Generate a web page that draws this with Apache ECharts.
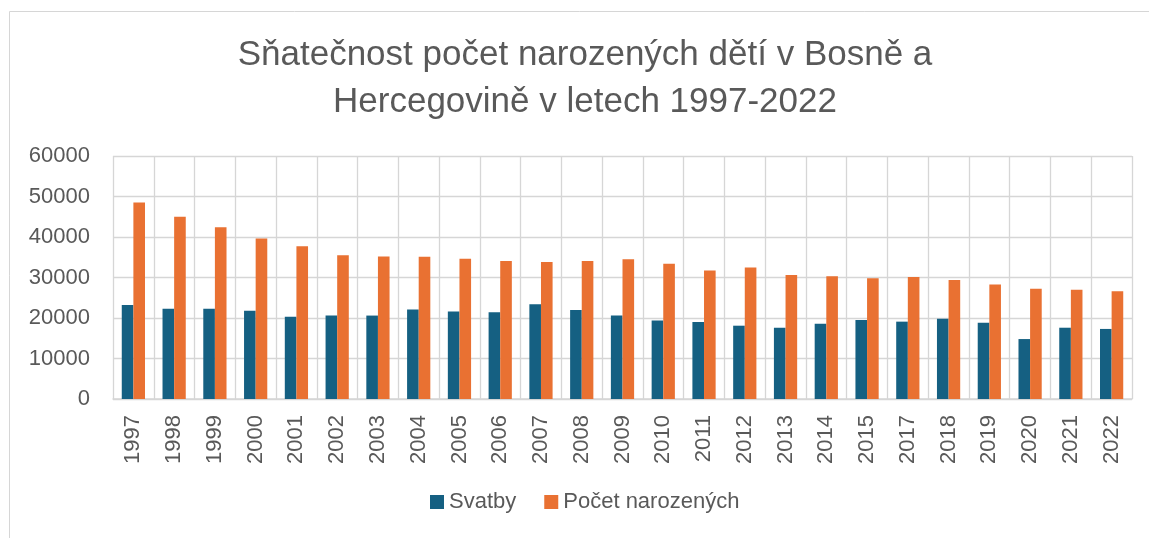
<!DOCTYPE html>
<html>
<head>
<meta charset="utf-8">
<title>Sňatečnost a porodnost v BiH</title>
<script src="https://cdn.jsdelivr.net/npm/echarts@6/dist/echarts.min.js"></script>
<style>
  html, body { margin: 0; padding: 0; background: #fff; }
  #chart { width: 1149px; height: 538px; }
</style>
</head>
<body>
<div id="chart"></div>
<script>
// roky (2016 v datech chybí)
const years = [
  "1997", "1998", "1999", "2000", "2001", "2002", "2003", "2004", "2005",
  "2006", "2007", "2008", "2009", "2010", "2011", "2012", "2013", "2014",
  "2015", "2017", "2018", "2019", "2020", "2021", "2022",
];
const svatby = [
  23200, 22300, 22300, 21800, 20300, 20600, 20600, 22100, 21600,
  21400, 23400, 22000, 20600, 19400, 19000, 18100, 17600, 18600,
  19500, 19100, 19800, 18800, 14800, 17600, 17300,
];
const narozeni = [
  48500, 45000, 42400, 39600, 37700, 35500, 35200, 35100, 34600,
  34100, 33800, 34100, 34500, 33400, 31700, 32500, 30600, 30300,
  29800, 30100, 29400, 28300, 27200, 27000, 26600,
];
const yTicks = [0, 10000, 20000, 30000, 40000, 50000, 60000];

const textColor = "#595959";
const gridColor = "#d6d6d6";
const font = "Liberation Sans";

function initChart() {
  const chart = echarts.init(document.getElementById("chart"));
  const option = {
    animation: false,
    textStyle: { fontFamily: font },
    title: {
      text: "Sňatečnost počet narozených dětí v Bosně a\nHercegovině v letech 1997-2022",
      left: 585,
      top: 32,
      padding: 0,
      textAlign: "center",
      textStyle: {
        color: textColor,
        fontSize: 35,
        fontWeight: "normal",
        lineHeight: 47,
        fontFamily: font,
      },
    },
    graphic: [
      {
        type: "rect",
        silent: true,
        shape: { x: 9.5, y: 11.5, width: 1300, height: 700 },
        style: { fill: "none", stroke: gridColor, lineWidth: 1 },
        z: -1,
      },
    ],
    legend: {
      data: ["Svatby", "Počet narozených"],
      left: 430,
      top: 491,
      padding: 0,
      itemWidth: 14,
      itemHeight: 14,
      itemGap: 28,
      icon: "rect",
      textStyle: { color: textColor, fontSize: 22 },
    },
    grid: {
      left: 113,
      right: 17,
      top: 156,
      bottom: 139,
    },
    xAxis: {
      type: "category",
      data: years,
      axisLine: { lineStyle: { color: gridColor, width: 1.5 } },
      axisTick: { show: false },
      splitLine: { show: true, interval: 0, lineStyle: { color: gridColor, width: 1.3 } },
      axisLabel: {
        rotate: 90,
        interval: 0,
        margin: 16,
        color: textColor,
        fontSize: 22,
      },
    },
    yAxis: {
      type: "value",
      min: yTicks[0],
      max: yTicks[yTicks.length - 1],
      interval: 10000,
      axisLine: { show: false },
      axisTick: { show: false },
      splitLine: { lineStyle: { color: gridColor, width: 1.3 } },
      axisLabel: {
        margin: 23,
        color: textColor,
        fontSize: 22,
        formatter: (v) => String(v),
      },
    },
    series: [
      {
        name: "Svatby",
        type: "bar",
        barGap: "0%",
        barCategoryGap: "43%",
        itemStyle: { color: "#156082" },
        data: svatby,
      },
      {
        name: "Počet narozených",
        type: "bar",
        barGap: "0%",
        barCategoryGap: "43%",
        itemStyle: { color: "#e97132" },
        data: narozeni,
      },
    ],
  };
  chart.setOption(option);
}

initChart();
</script>
</body>
</html>
